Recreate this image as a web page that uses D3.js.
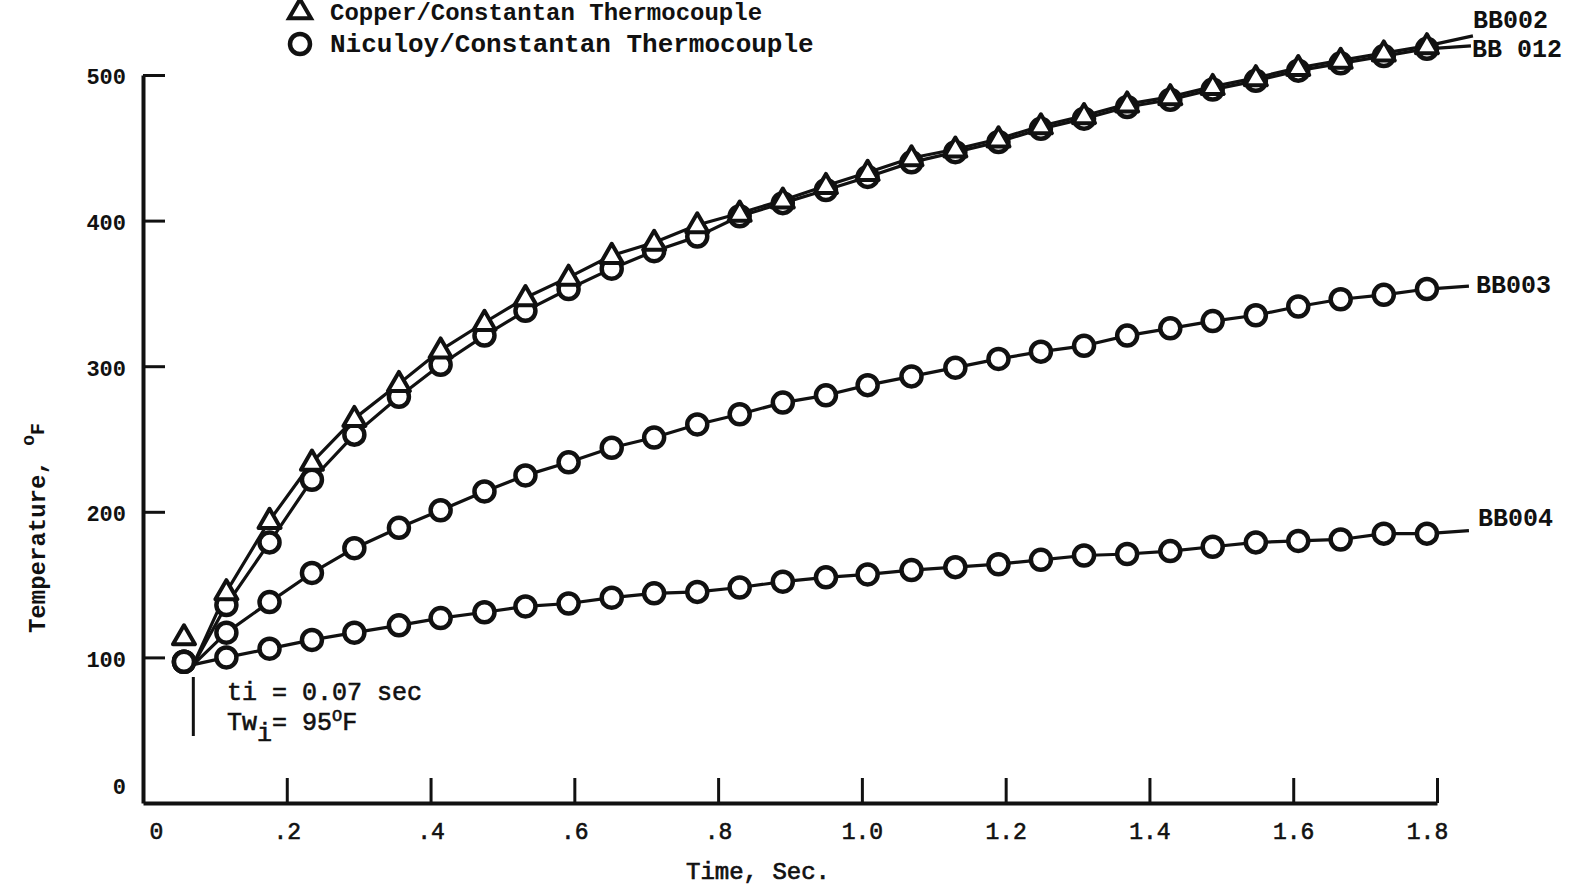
<!DOCTYPE html>
<html><head><meta charset="utf-8">
<script src="https://cdn.jsdelivr.net/npm/d3@7"></script>
<style>
body{margin:0;background:#fff;}
svg{display:block;background:#fff;}
text{font-family:"Liberation Mono","Courier New",monospace;fill:#111;}
</style>
</head><body>
<svg id="chart" width="1580" height="892"></svg>
<script>
// ---- data ----
const times = [0.057,0.116,0.176,0.235,0.294,0.356,0.414,0.475,0.532,0.592,0.652,0.711,0.771,0.830,0.890,0.950,1.008,1.069,1.130,1.190,1.249,1.309,1.369,1.429,1.488,1.548,1.607,1.666,1.726,1.786];
const bb002 = [114,145,194,234,264,288,311,330,347,361,376,385,397,405,414,424,433,443,449,456,465,472,480,485,492,498,505,510,515,520];
const bb012 = [97,136,179,222,253,279,301,321,338,353,367,379,389,403,412,421,430,440,447,454,463,470,478,483,490,496,503,508,513,518];
const bb003 = [97,117,138,158,175,189,201,214,225,234,244,251,260,267,275,280,287,293,299,305,310,314,321,326,331,335,341,346,349,353];
const bb004 = [97,100,106,112,117,122,127,131,135,137,141,144,145,148,152,155,157,160,162,164,167,170,171,173,176,179,180,181,185,185];
const startTime = 0.07, startTemp = 95;
const seriesNames = ["BB002","BB 012","BB003","BB004"];
const xTicks = [0,0.2,0.4,0.6,0.8,1.0,1.2,1.4,1.6,1.8];
const xTickLabels = ["0",".2",".4",".6",".8","1.0","1.2","1.4","1.6","1.8"];
const yTicks = [0,100,200,300,400,500];
const yTickLabels = ["0","100","200","300","400","500"];
const legendLabels = ["Copper/Constantan Thermocouple","Niculoy/Constantan Thermocouple"];
const xTitle = "Time, Sec.";
const yTitle = "Temperature, ";
const note1 = "ti = 0.07 sec";

// ---- drawing ----
const svg = d3.select("#chart");
const x = d3.scaleLinear().domain([0,1.8]).range([143,1437]);
const y = d3.scaleLinear().domain([0,500]).range([803,75]);
const ink = "#111";

// axes
const gy = svg.append("g").attr("transform","translate(143,0)")
  .call(d3.axisLeft(y).tickValues(yTicks).tickFormat((d,i)=>yTickLabels[i]).tickSize(-22).tickSizeOuter(0).tickPadding(17));
gy.select(".domain").attr("stroke",ink).attr("stroke-width",4);
gy.selectAll(".tick line").attr("stroke",ink).attr("stroke-width",3).attr("display",d=>d===0?"none":null);
gy.selectAll(".tick text").attr("font-size",22).attr("font-weight","bold").attr("fill",ink)
  .attr("dy",d=>d===0?"-0.45em":"0.4em");

const gx = svg.append("g").attr("transform","translate(0,803)")
  .call(d3.axisBottom(x).tickValues(xTicks).tickFormat((d,i)=>xTickLabels[i]).tickSize(-25).tickSizeOuter(0).tickPadding(20));
gx.select(".domain").attr("stroke",ink).attr("stroke-width",4);
gx.selectAll(".tick line").attr("stroke",ink).attr("stroke-width",3).attr("display",d=>d===0?"none":null);
gx.selectAll(".tick text").attr("font-size",23).attr("fill",ink).attr("stroke",ink).attr("stroke-width",0.6)
  .attr("dx",(d,i)=>i===0?13:(i===xTicks.length-1?-10:0));

// axis titles
svg.append("text").attr("x",758).attr("y",879).attr("text-anchor","middle")
  .attr("font-size",24).attr("stroke",ink).attr("stroke-width",0.7).text(xTitle);
const yt = svg.append("text").attr("transform","translate(45,528) rotate(-90)")
  .attr("text-anchor","middle").attr("font-size",24).attr("font-weight","bold");
yt.append("tspan").text(yTitle);
yt.append("tspan").attr("font-size",18).attr("dy","-0.6em").text("o");
yt.append("tspan").attr("font-size",20).attr("dy","0.5em").text("F");

// series lines
const allSeries = [bb002,bb012,bb003,bb004];
const ends = [[46,-10],[44,-3],[42,-3],[42,-3]];
allSeries.forEach((vals,si)=>{
  const pts = [[startTime,startTemp]].concat(times.slice(1).map((t,i)=>[t,vals[i+1]]));
  const p = pts.map(d=>[x(d[0]),y(d[1])]);
  const last = p[p.length-1];
  p.push([last[0]+ends[si][0], last[1]+ends[si][1]]);
  svg.append("path").attr("d",d3.line()(p)).attr("fill","none")
     .attr("stroke",ink).attr("stroke-width",3.2).attr("stroke-linejoin","round");
});
// circles first, then triangles on top
[1,2,3].forEach(si=>{
  svg.append("g").selectAll("circle").data(times.map((t,i)=>[t,allSeries[si][i]])).join("circle")
    .attr("cx",d=>x(d[0])).attr("cy",d=>y(d[1])).attr("r",10)
    .attr("fill","#fff").attr("stroke",ink).attr("stroke-width",4.5);
});
const tri = d3.symbol().type(d3.symbolTriangle).size(210);
svg.append("g").selectAll("path").data(times.map((t,i)=>[t,bb002[i]])).join("path")
  .attr("d",tri).attr("transform",d=>`translate(${x(d[0])},${y(d[1])+1})`)
  .attr("fill","#fff").attr("stroke",ink).attr("stroke-width",4).attr("stroke-linejoin","round");

// series labels
const labelPos = [[1473,28],[1472,57],[1476,293],[1478,526]];
seriesNames.forEach((n,i)=>{
  svg.append("text").attr("x",labelPos[i][0]).attr("y",labelPos[i][1])
    .attr("font-size",25).attr("font-weight","bold").text(n);
});

// legend
svg.append("path").attr("d",tri).attr("transform","translate(300,12)")
  .attr("fill","#fff").attr("stroke",ink).attr("stroke-width",4);
svg.append("text").attr("x",330).attr("y",20).attr("font-size",24).attr("font-weight","bold").text(legendLabels[0]);
svg.append("circle").attr("cx",300).attr("cy",44).attr("r",10).attr("fill","#fff").attr("stroke",ink).attr("stroke-width",4.5);
svg.append("text").attr("x",330).attr("y",52).attr("font-size",26).attr("font-weight","bold").text(legendLabels[1]);

// annotation
svg.append("line").attr("x1",x(startTime)).attr("x2",x(startTime)).attr("y1",677).attr("y2",736)
  .attr("stroke",ink).attr("stroke-width",3);
svg.append("text").attr("x",227).attr("y",700).attr("font-size",25).attr("stroke",ink).attr("stroke-width",0.6).text(note1);
const t2 = svg.append("text").attr("x",227).attr("y",730).attr("font-size",25).attr("stroke",ink).attr("stroke-width",0.6);
t2.append("tspan").text("Tw");
t2.append("tspan").attr("dy",11).text("i");
t2.append("tspan").attr("dy",-11).text("= 95");
t2.append("tspan").attr("font-size",17).attr("dy",-9).text("O");
t2.append("tspan").attr("dy",9).text("F");
</script>
</body></html>
